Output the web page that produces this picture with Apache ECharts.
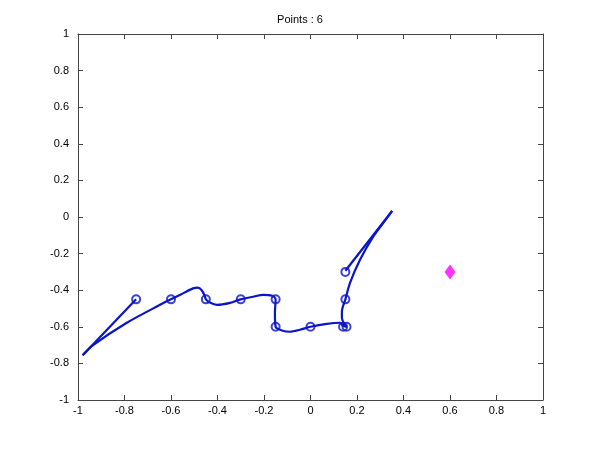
<!DOCTYPE html>
<html>
<head>
<meta charset="utf-8">
<script src="https://cdn.jsdelivr.net/npm/echarts@6/dist/echarts.min.js"></script>
<style>html,body{margin:0;padding:0;background:#fff}#c{width:600px;height:450px}</style>
</head>
<body>
<div id="c"></div>
<script>
// Curve path (x, y)
var curveX = [-0.75,-0.98,-0.935,-0.79,-0.647,-0.6,-0.56,-0.505,-0.484,-0.468,-0.455,-0.45,-0.431,-0.402,-0.346,-0.3,-0.247,-0.204,-0.165,-0.15,-0.153,-0.15,-0.123,-0.088,-0.045,0,0.07,0.127,0.14,0.155,0.145,0.135,0.135,0.15,0.17,0.213,0.269,0.329,0.351,0.15];
var curveY = [-0.45,-0.755,-0.70,-0.578,-0.48,-0.45,-0.425,-0.39,-0.386,-0.40,-0.43,-0.45,-0.469,-0.48,-0.469,-0.45,-0.436,-0.425,-0.43,-0.45,-0.523,-0.6,-0.62,-0.627,-0.616,-0.6,-0.584,-0.578,-0.595,-0.6,-0.585,-0.55,-0.518,-0.45,-0.36,-0.234,-0.109,-0.005,0.033,-0.294];
// Indices of the sharp turning points of the path
var cusps = [1, 38];
// Circle markers
var ptsX = [-0.75,-0.6,-0.45,-0.3,-0.15,-0.15,0,0.14,0.155,0.15,0.15];
var ptsY = [-0.45,-0.45,-0.45,-0.45,-0.45,-0.6,-0.6,-0.6,-0.6,-0.45,-0.3];
// Target diamond
var targetX = [0.6];
var targetY = [-0.3];
var titleText = 'Points : 6';

function zip(a, b){ return a.map(function(v,i){ return [v, b[i]]; }); }

var chart = echarts.init(document.getElementById('c'));
var fnt = 'Liberation Sans, Arial, sans-serif';
var axCol = '#444';
function xAx(pos, show){
  return {type:'value', position:pos, min:-1, max:1, interval:0.2,
    axisLine:{show:true, onZero:false, lineStyle:{color:axCol, width:1}},
    axisTick:{show:true, inside:true, length:5, lineStyle:{color:axCol}},
    axisLabel:{show:show, color:'#000', fontSize:11, fontFamily:fnt, margin:5,
      formatter:function(v){ return +v.toFixed(1) + ''; }},
    splitLine:{show:false}};
}
function yAx(pos, show){
  return {type:'value', position:pos, min:-1, max:1, interval:0.2,
    axisLine:{show:true, onZero:false, lineStyle:{color:axCol, width:1}},
    axisTick:{show:true, inside:true, length:5, lineStyle:{color:axCol}},
    axisLabel:{show:show, color:'#000', fontSize:11, fontFamily:fnt, margin:9,
      formatter:function(v){ return +v.toFixed(1) + ''; }},
    splitLine:{show:false}};
}
var pts = zip(curveX, curveY);
var bounds = [0].concat(cusps).concat([pts.length - 1]);
var series = [];
for (var i = 0; i < bounds.length - 1; i++) {
  series.push({type:'line', data:pts.slice(bounds[i], bounds[i+1] + 1), smooth:0.3,
    showSymbol:false, symbol:'none', lineStyle:{color:'#0A14C8', width:2.2}});
}
series.push({type:'scatter', data:zip(ptsX, ptsY), symbol:'circle', symbolSize:8,
  itemStyle:{color:'rgba(255,255,255,0)', borderColor:'#0A14C8', borderWidth:2}});
series.push({type:'scatter', data:zip(targetX, targetY), symbol:'diamond', symbolSize:[11,15],
  itemStyle:{color:'#FF00FF'}});

chart.setOption({
  animation:false,
  backgroundColor:'#fff',
  title:{text:titleText, left:'center', top:9, textStyle:{fontSize:11, fontWeight:'normal', color:'#000', fontFamily:fnt}},
  grid:{left:78, right:57, top:34, bottom:50},
  xAxis:[xAx('bottom', true), xAx('top', false)],
  yAxis:[yAx('left', true), yAx('right', false)],
  series:series
});
</script>
</body>
</html>
